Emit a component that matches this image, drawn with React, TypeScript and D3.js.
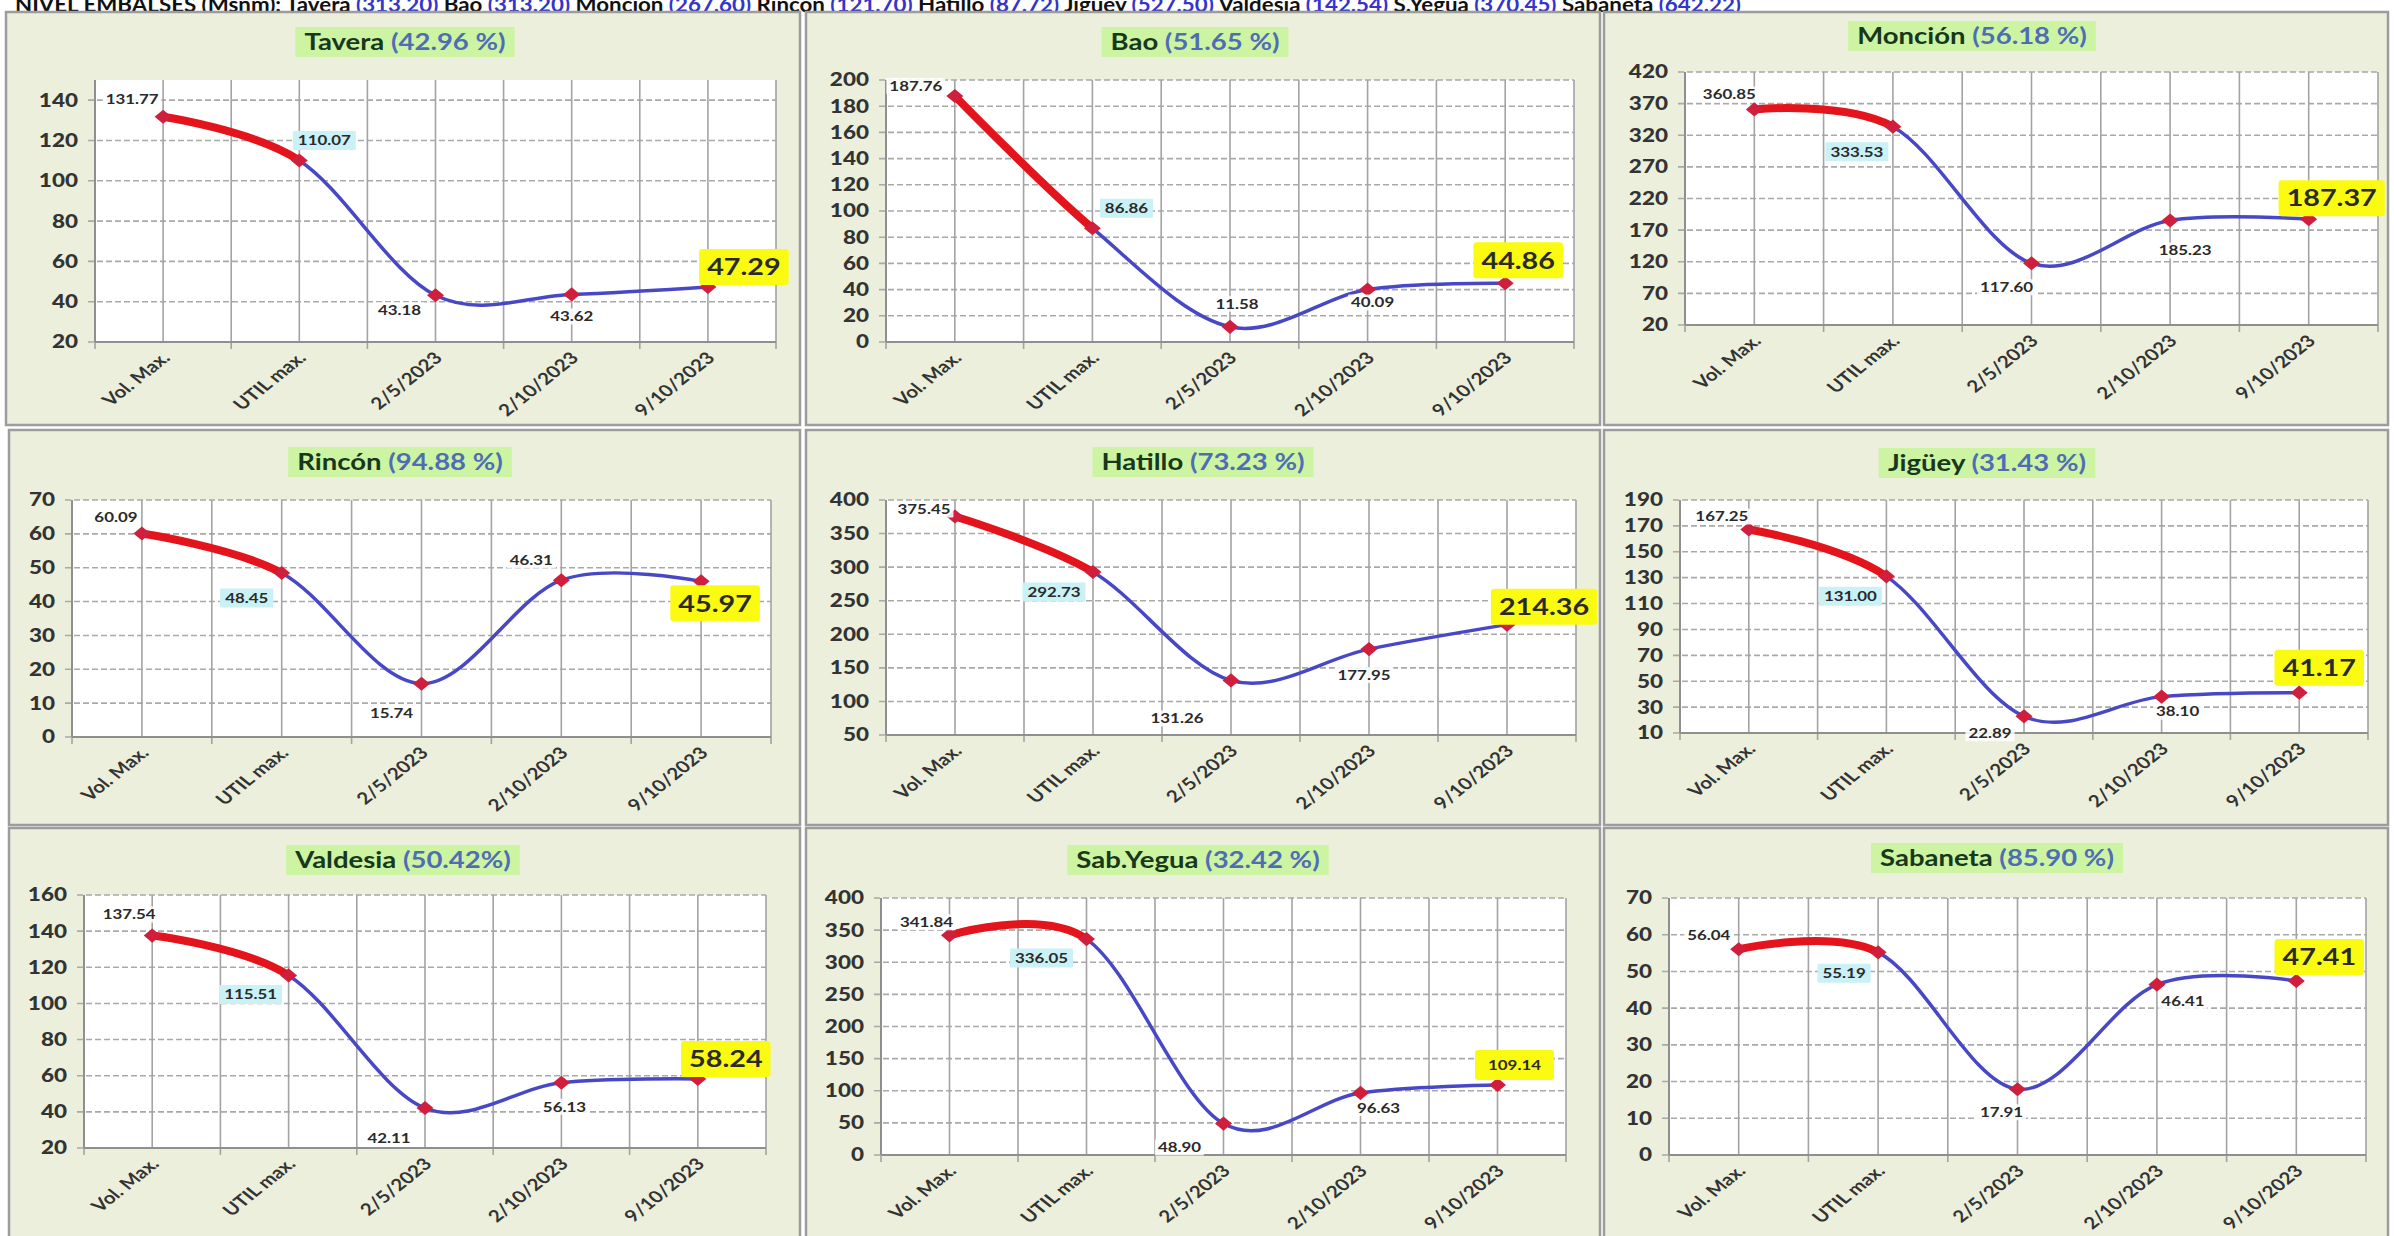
import React from 'react';
import * as d3 from 'd3';

// ---------- DATA ----------
const categories = ["Vol. Max.", "UTIL max.", "2/5/2023", "2/10/2023", "9/10/2023"];
const reservoirNames = ["Tavera", "Bao", "Monción", "Rincón", "Hatillo", "Jigüey", "Valdesia", "Sab.Yegua", "Sabaneta"];
const reservoirPercents = ["42.96 %", "51.65 %", "56.18 %", "94.88 %", "73.23 %", "31.43 %", "50.42%", "32.42 %", "85.90 %"];

const taveraValues = [131.77, 110.07, 43.18, 43.62, 47.29];
const baoValues = [187.76, 86.86, 11.58, 40.09, 44.86];
const moncionValues = [360.85, 333.53, 117.6, 185.23, 187.37];
const rinconValues = [60.09, 48.45, 15.74, 46.31, 45.97];
const hatilloValues = [375.45, 292.73, 131.26, 177.95, 214.36];
const jigueyValues = [167.25, 131.0, 22.89, 38.1, 41.17];
const valdesiaValues = [137.54, 115.51, 42.11, 56.13, 58.24];
const sabYeguaValues = [341.84, 336.05, 48.9, 96.63, 109.14];
const sabanetaValues = [56.04, 55.19, 17.91, 46.41, 47.41];

const taveraTicks = [20, 40, 60, 80, 100, 120, 140];
const baoTicks = [0, 20, 40, 60, 80, 100, 120, 140, 160, 180, 200];
const moncionTicks = [20, 70, 120, 170, 220, 270, 320, 370, 420];
const rinconTicks = [0, 10, 20, 30, 40, 50, 60, 70];
const hatilloTicks = [50, 100, 150, 200, 250, 300, 350, 400];
const jigueyTicks = [10, 30, 50, 70, 90, 110, 130, 150, 170, 190];
const valdesiaTicks = [20, 40, 60, 80, 100, 120, 140, 160];
const sabYeguaTicks = [0, 50, 100, 150, 200, 250, 300, 350, 400];
const sabanetaTicks = [0, 10, 20, 30, 40, 50, 60, 70];

const axisMin = [20, 0, 20, 0, 50, 10, 20, 0, 0];
const axisMax = [150, 200, 420, 70, 400, 190, 160, 400, 70];

const headerLabel = "NIVEL EMBALSES (Msnm):";
const headerNames = ["Tavera", "Bao", "Moncion", "Rincon", "Hatillo", "Jigüey", "Valdesia", "S.Yegua", "Sabaneta"];
const headerLevels = ["313.20", "313.20", "267.60", "121.70", "87.72", "527.50", "142.54", "370.45", "642.22"];

const seriesList = [taveraValues, baoValues, moncionValues, rinconValues, hatilloValues, jigueyValues, valdesiaValues, sabYeguaValues, sabanetaValues];
const tickList = [taveraTicks, baoTicks, moncionTicks, rinconTicks, hatilloTicks, jigueyTicks, valdesiaTicks, sabYeguaTicks, sabanetaTicks];

// ---------- LAYOUT ----------
const frames = [
  { x: 6, y: 12, w: 794, h: 413, l: 95, r: 776, t: 80, b: 342, tx: 405, ty: 42 },
  { x: 806, y: 12, w: 794, h: 413, l: 886, r: 1574, t: 80, b: 342, tx: 1195, ty: 42 },
  { x: 1604, y: 12, w: 784, h: 413, l: 1685, r: 2378, t: 72, b: 325, tx: 1972, ty: 36 },
  { x: 9, y: 430, w: 791, h: 395, l: 72, r: 771, t: 500, b: 737, tx: 400, ty: 462 },
  { x: 806, y: 430, w: 794, h: 395, l: 886, r: 1576, t: 500, b: 735, tx: 1203, ty: 462 },
  { x: 1604, y: 430, w: 784, h: 395, l: 1680, r: 2368, t: 500, b: 733, tx: 1987, ty: 463 },
  { x: 9, y: 828, w: 791, h: 420, l: 84, r: 766, t: 895, b: 1148, tx: 403, ty: 860 },
  { x: 806, y: 828, w: 794, h: 420, l: 881, r: 1566, t: 898, b: 1155, tx: 1198, ty: 860 },
  { x: 1604, y: 828, w: 784, h: 420, l: 1669, r: 2366, t: 898, b: 1155, tx: 1997, ty: 858 },
];

// label centre offsets relative to each point
const labelOffsets = [
  [[-31, -18], [25, -20], [-36, 15], [0, 22], [36, -20]],
  [[-39, -10], [34, -20], [7, -23], [5, 13], [13, -23]],
  [[-25, -15], [-36, 25], [-25, 24], [15, 30], [23, -21]],
  [[-26, -16], [-35, 25], [-30, 29], [-30, -20], [14, 22]],
  [[-31, -7], [-39, 20], [-54, 38], [-5, 26], [37, -18]],
  [[-27, -13], [-36, 20], [-34, 17], [16, 15], [20, -25]],
  [[-23, -21], [-38, 19], [-36, 30], [3, 24], [28, -20]],
  [[-23, -13], [-45, 19], [-44, 24], [18, 15], [17, -20]],
  [[-30, -14], [-34, 21], [-16, 23], [26, 17], [23, -24]],
];
const bigLast = [true, true, true, true, true, true, true, false, true];

const SX = 1.25;
const FONT = "Lato, 'Open Sans', sans-serif";

let ctx: CanvasRenderingContext2D | null = null;
function measure(t: string, size: number) {
  if (!ctx && typeof document !== 'undefined') ctx = document.createElement('canvas').getContext('2d');
  if (!ctx) return t.length * size * 0.55;
  ctx.font = `bold ${size}px Lato`;
  return ctx.measureText(t).width;
}

function Header() {
  return (
    <text x={15} y={12} fontSize={21} fontWeight="bold" fontFamily={FONT} textLength={1726} lengthAdjust="spacingAndGlyphs" fill="#111">
      <tspan>{headerLabel + " "}</tspan>
      {headerNames.map((n, i) => (
        <React.Fragment key={i}>
          <tspan fill="#111">{n + " "}</tspan>
          <tspan fill="#3535c8">{"(" + headerLevels[i] + ")"}</tspan>
          <tspan>{" "}</tspan>
        </React.Fragment>
      ))}
    </text>
  );
}

function Panel({ i }: { i: number }) {
  const f = frames[i];
  const values = seriesList[i];
  const ticks = tickList[i];
  const x = d3.scalePoint<string>().domain(categories).range([f.l, f.r]).padding(0.5);
  const step = x.step();
  const y = d3.scaleLinear().domain([axisMin[i], axisMax[i]]).range([f.b, f.t]);
  const pts: [number, number][] = values.map((v, k) => [x(categories[k]) as number, y(v)]);
  const line = d3.line().curve(d3.curveCardinal.tension(0));
  const path = line(pts) || '';
  const boundaries = d3.range(categories.length + 1).map(k => f.l + k * step);
  const centers = categories.map(c => x(c) as number);

  const name = reservoirNames[i];
  const pct = "(" + reservoirPercents[i] + ")";
  const titleSize = 22;
  const titleW = measure(name + " " + pct, titleSize) * SX;

  const diamond = d3.symbol().type(d3.symbolSquare).size(100)() || '';

  return (
    <g>
      <rect x={f.x} y={f.y} width={f.w} height={f.h} fill="#ebefdc" stroke="#9c9c9c" strokeWidth={2.5} />
      {/* title */}
      <rect x={f.tx - titleW / 2 - 9} y={f.ty - 15} width={titleW + 18} height={30} fill="#cdf4a3" />
      <text transform={`translate(${f.tx},${f.ty}) scale(${SX},1)`} textAnchor="middle" dy="0.36em" fontSize={titleSize} fontWeight="bold" fontFamily={FONT}>
        <tspan fill="#17381a">{name + " "}</tspan>
        <tspan fill="#4f6db5">{pct}</tspan>
      </text>
      {/* plot area */}
      <rect x={f.l} y={f.t} width={f.r - f.l} height={f.b - f.t} fill="#ffffff" />
      {ticks.map(tk => (
        <line key={'h' + tk} x1={f.l - 7} x2={f.r} y1={y(tk)} y2={y(tk)} stroke="#a9a9a9" strokeWidth={1.6} strokeDasharray="6,3" />
      ))}
      {boundaries.map((bx, k) => (
        <line key={'vb' + k} x1={bx} x2={bx} y1={f.t} y2={f.b + 7} stroke="#a3a3a3" strokeWidth={1.6} />
      ))}
      {centers.map((cx, k) => (
        <line key={'vc' + k} x1={cx} x2={cx} y1={f.t} y2={f.b} stroke="#a3a3a3" strokeWidth={1.6} />
      ))}
      <line x1={f.l} x2={f.r} y1={f.b} y2={f.b} stroke="#8f8f8f" strokeWidth={2} />
      <line x1={f.l} x2={f.l} y1={f.t} y2={f.b} stroke="#8f8f8f" strokeWidth={2} />
      {/* y labels */}
      {ticks.map(tk => (
        <text key={'yl' + tk} transform={`translate(${f.l - 17},${y(tk)}) scale(${SX},1)`} textAnchor="end" dy="0.36em" fontSize={18} fontWeight="900" fontFamily={FONT} fill="#333">
          {tk}
        </text>
      ))}
      {/* x labels */}
      {categories.map((c, k) => (
        <text key={'xl' + k} transform={`translate(${centers[k] + 8},${f.b + 17}) scale(${SX},1) rotate(-45)`} textAnchor="end" fontSize={16.5} fontWeight="bold" fontFamily={FONT} fill="#333">
          {c}
        </text>
      ))}
      {/* lines */}
      <clipPath id={'red' + i}>
        <rect x={f.l - 30} y={f.t - 60} width={pts[1][0] - f.l + 30} height={f.b - f.t + 120} />
      </clipPath>
      <path d={path} fill="none" stroke="#4848c6" strokeWidth={3.5} strokeLinejoin="round" />
      <path d={path} fill="none" stroke="#e3141b" strokeWidth={8} strokeLinecap="round" clipPath={`url(#red${i})`} />
      {pts.map((p, k) => (
        <path key={'m' + k} d={diamond} transform={`translate(${p[0]},${p[1]}) scale(1.2,1) rotate(45)`} fill="#cf1f3c" />
      ))}
      {/* data labels */}
      {pts.map((p, k) => {
        const [dx, dy] = labelOffsets[i][k];
        const txt = values[k].toFixed(2);
        const isLast = k === values.length - 1;
        const big = isLast && bigLast[i];
        const size = big ? 23 : 13.5;
        const w = measure(txt, size) * SX;
        const cx = p[0] + dx;
        const cy = p[1] + dy;
        let bg = 'rgba(255,255,255,0.85)';
        let padX = 3, h = 16;
        if (k === 1) { bg = '#c9f1f6'; padX = 5; h = 19; }
        if (isLast) { bg = '#fbfb12'; padX = big ? 8 : 13; h = big ? 36 : 30; }
        return (
          <g key={'l' + k}>
            <rect x={cx - w / 2 - padX} y={cy - h / 2} width={w + 2 * padX} height={h} fill={bg} rx={isLast ? 3 : 1} />
            <text transform={`translate(${cx},${cy}) scale(${SX},1)`} textAnchor="middle" dy="0.36em" fontSize={size} fontWeight="bold" fontFamily={FONT} fill="#2a2a2a">
              {txt}
            </text>
          </g>
        );
      })}
    </g>
  );
}

export default function App() {
  return (
    <svg width={2394} height={1236} style={{ position: 'absolute', left: 0, top: 0, background: '#ffffff' }}>
      <Header />
      {frames.map((f, i) => <Panel key={i} i={i} />)}
    </svg>
  );
}
